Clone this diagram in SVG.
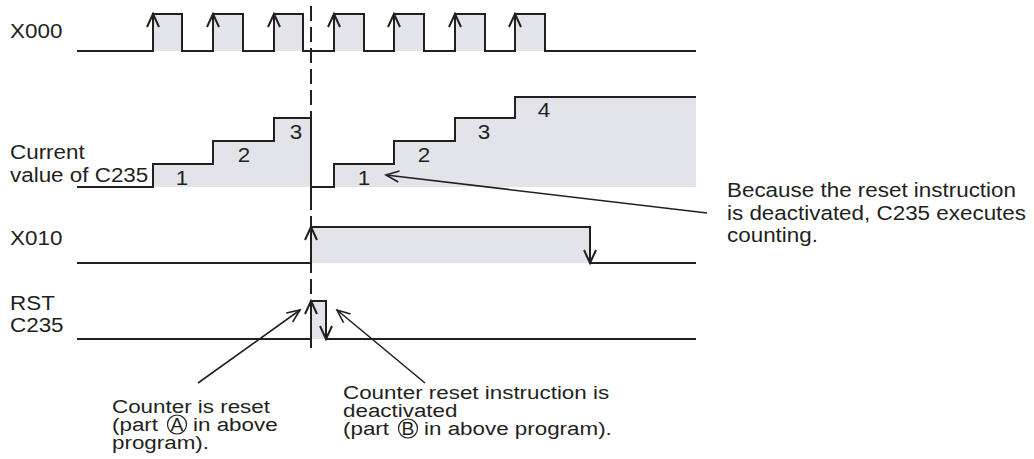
<svg xmlns="http://www.w3.org/2000/svg" xmlns:xlink="http://www.w3.org/1999/xlink" width="1034" height="459" viewBox="0 0 1034 459">
<style>
.w{fill:none;stroke:#231f20;stroke-width:2;stroke-linejoin:miter;stroke-linecap:butt}
.f{fill:#e2e4e9;stroke:none}
.t{font-family:"Liberation Sans",Arial,sans-serif;font-size:19.5px;fill:#231f20}
.s{font-size:18.2px}
.n{text-anchor:middle}
.a{fill:none;stroke:#231f20;stroke-width:1.6}
.d{fill:none;stroke:#231f20;stroke-width:2;stroke-dasharray:15 6}
.c{fill:none;stroke:#231f20;stroke-width:1.2}
</style>
<defs>
<path id="up" class="w" d="M-6,13 L0,0 L6,13"/>
<path id="dn" class="w" d="M-6,-13 L0,0 L6,-13"/>
<marker id="ah" markerUnits="userSpaceOnUse" markerWidth="18" markerHeight="16" viewBox="-16 -8 18 16" refX="0" refY="0" orient="auto"><path d="M-13,-5.5 L0,0 L-13,5.5" fill="none" stroke="#231f20" stroke-width="1.6"/></marker>
</defs>
<rect width="1034" height="459" fill="#ffffff"/>

<g id="sig-x000">
<rect class="f" x="153" y="14" width="29" height="37"/>
<rect class="f" x="213" y="14" width="30" height="37"/>
<rect class="f" x="274" y="14" width="29" height="37"/>
<rect class="f" x="334" y="14" width="30" height="37"/>
<rect class="f" x="394" y="14" width="30" height="37"/>
<rect class="f" x="455" y="14" width="30" height="37"/>
<rect class="f" x="515" y="14" width="30" height="37"/>
<path class="w" d="M77,51 H153 V14 H182 V51 H213 V14 H243 V51 H274 V14 H303 V51 H334 V14 H364 V51 H394 V14 H424 V51 H455 V14 H485 V51 H515 V14 H545 V51 H696"/>
<use xlink:href="#up" x="153" y="14"/>
<use xlink:href="#up" x="213" y="14"/>
<use xlink:href="#up" x="274" y="14"/>
<use xlink:href="#up" x="334" y="14"/>
<use xlink:href="#up" x="394" y="14"/>
<use xlink:href="#up" x="455" y="14"/>
<use xlink:href="#up" x="515" y="14"/>
<text class="t" transform="translate(10 38) scale(1.15 1)">X000</text>
</g>

<g id="sig-current">
<path class="f" d="M153,187 V164 H213 V141 H274 V118 H311 V187 Z"/>
<path class="f" d="M334,187 V164 H394 V141 H455 V118 H515 V97 H696 V187 Z"/>
<path class="w" d="M77,187 H153 V164 H213 V141 H274 V118 H311 V198"/>
<path class="w" d="M311,187 H334 V164 H394 V141 H455 V118 H515 V97 H696"/>
<text class="t n" transform="translate(182 185) scale(1.15 1)">1</text>
<text class="t n" transform="translate(244 162) scale(1.15 1)">2</text>
<text class="t n" transform="translate(296 139) scale(1.15 1)">3</text>
<text class="t n" transform="translate(364 185) scale(1.15 1)">1</text>
<text class="t n" transform="translate(424 162) scale(1.15 1)">2</text>
<text class="t n" transform="translate(484 139) scale(1.15 1)">3</text>
<text class="t n" transform="translate(544 117) scale(1.15 1)">4</text>
<text class="t" transform="translate(10 159) scale(1.15 1)">Current</text>
<text class="t" transform="translate(10 182) scale(1.15 1)">value of C235</text>
</g>

<g id="sig-x010">
<rect class="f" x="311" y="227" width="279" height="36"/>
<path class="w" d="M77,263 H311 V227 H590 V263 H696"/>
<use xlink:href="#up" x="311" y="227"/>
<use xlink:href="#dn" x="590" y="263"/>
<text class="t" transform="translate(10 245) scale(1.15 1)">X010</text>
</g>

<g id="sig-rst">
<rect class="f" x="311" y="301" width="15" height="38"/>
<path class="w" d="M77,339 H311 V301 H326 V339 H696"/>
<path class="w" d="M311,339 V348"/>
<use xlink:href="#up" x="311" y="301"/>
<use xlink:href="#dn" x="326" y="339"/>
<text class="t" transform="translate(10 310) scale(1.15 1)">RST</text>
<text class="t" transform="translate(10 332) scale(1.15 1)">C235</text>
</g>

<g id="connectors">
<path id="time-marker" class="d" d="M311,6 V348"/>
<line id="note-count" class="a" x1="707" y1="213" x2="386" y2="175" marker-end="url(#ah)"/>
<line id="note-reset" class="a" x1="198" y1="383" x2="300" y2="310" marker-end="url(#ah)"/>
<line id="note-deact" class="a" x1="425" y1="383" x2="337" y2="310" marker-end="url(#ah)"/>
</g>

<g id="note-right">
<text class="t" transform="translate(727 197) scale(1.15 1)">Because the reset instruction</text>
<text class="t" transform="translate(727 220) scale(1.15 1)">is deactivated, C235 executes</text>
<text class="t" transform="translate(727 242) scale(1.15 1)">counting.</text>
</g>

<g id="note-left">
<text class="t s" transform="translate(112 413) scale(1.23 1)">Counter is reset</text>
<text class="t s" transform="translate(112 431) scale(1.23 1)">(part</text>
<circle class="c" cx="177" cy="424.5" r="9.5"/>
<text class="t n" transform="translate(177 430.8) scale(1.1 1)" style="font-size:17.5px">A</text>
<text class="t s" transform="translate(193 431) scale(1.23 1)">in above</text>
<text class="t s" transform="translate(112 449) scale(1.23 1)">program).</text>
</g>

<g id="note-mid">
<text class="t s" transform="translate(343 399) scale(1.23 1)">Counter reset instruction is</text>
<text class="t s" transform="translate(343 417) scale(1.23 1)">deactivated</text>
<text class="t s" transform="translate(343 435) scale(1.23 1)">(part</text>
<circle class="c" cx="408" cy="428.5" r="9.5"/>
<text class="t n" transform="translate(408 434.8) scale(1.1 1)" style="font-size:17.5px">B</text>
<text class="t s" transform="translate(424 435) scale(1.23 1)">in above program).</text>
</g>
</svg>
